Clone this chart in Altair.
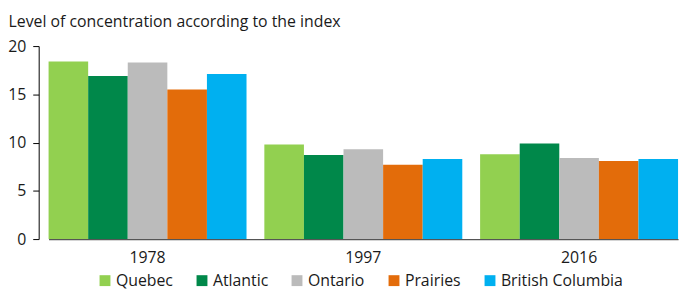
import altair as alt
import pandas as pd

regions = ["Quebec", "Atlantic", "Ontario", "Prairies", "British Columbia"]
years = ["1978", "1997", "2016"]
colors = ["#92D050", "#00884A", "#BBBBBB", "#E36C0A", "#00B0F0"]

quebec = [18.4, 9.8, 8.8]
atlantic = [16.9, 8.7, 9.9]
ontario = [18.3, 9.3, 8.4]
prairies = [15.5, 7.7, 8.1]
british_columbia = [17.1, 8.3, 8.3]

series = [quebec, atlantic, ontario, prairies, british_columbia]
rows = []
for r, vals in zip(regions, series):
    for y, v in zip(years, vals):
        rows.append({"year": y, "region": r, "value": v})
df = pd.DataFrame(rows)

FONT = "Open Sans"
TXT = "#1a1a1a"

chart = alt.Chart(df).mark_bar().encode(
    x=alt.X(
        "year:N",
        sort=years,
        scale=alt.Scale(range=[10, 646], paddingInner=0.0826, paddingOuter=0),
        axis=alt.Axis(
            title=None, ticks=False, labelAngle=0, labelPadding=11,
            domainColor="#555555", domainWidth=1.2,
            labelFont=FONT, labelFontSize=16, labelColor=TXT,
        ),
    ),
    xOffset=alt.XOffset(
        "region:N", sort=regions,
        scale=alt.Scale(domain=regions, paddingInner=0, paddingOuter=0),
    ),
    y=alt.Y(
        "value:Q",
        scale=alt.Scale(domain=[0, 20], nice=False),
        axis=alt.Axis(
            values=[0, 5, 10, 15, 20], grid=False,
            tickSize=6, tickColor="#000000", domainColor="#000000",
            labelPadding=7, labelFont=FONT, labelFontSize=16, labelColor=TXT,
            title="Level of concentration according to the index",
            titleAngle=0, titleX=-31, titleY=-20, titleAlign="left",
            titleBaseline="alphabetic", titleFont=FONT, titleFontSize=16,
            titleFontWeight="normal", titleColor=TXT,
        ),
    ),
    color=alt.Color(
        "region:N", sort=regions, title=None,
        scale=alt.Scale(domain=regions, range=colors),
        legend=alt.Legend(
            orient="none", legendX=59, legendY=229, direction="horizontal",
            symbolType="square", symbolSize=121, symbolStrokeWidth=0,
            labelFont=FONT, labelFontSize=16, labelColor=TXT,
            columnPadding=21, labelOffset=3, padding=0,
        ),
    ),
).properties(
    width=651, height=195,
    autosize=alt.AutoSizeParams(type="none"),
    padding={"left": 31, "top": 37, "right": 0, "bottom": 51},
).configure_view(stroke=None)

chart.save("out.html", embed_options={"renderer": "svg", "actions": False})
